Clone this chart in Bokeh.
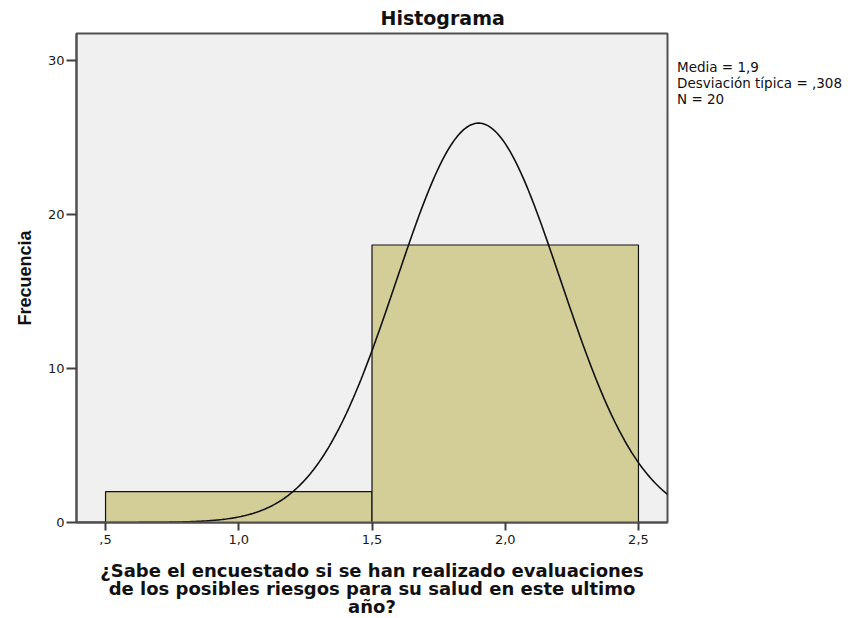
import numpy as np
from bokeh.plotting import figure
from bokeh.models import FixedTicker, Range1d, Legend, LegendItem
from bokeh.embed import file_html
from bokeh.resources import INLINE

# data
bin_left = [0.5, 1.5]
bin_right = [1.5, 2.5]
counts = [2, 18]
mean = 1.9
std = 0.308
n = 20
x_ticks = [0.5, 1.0, 1.5, 2.0, 2.5]
x_tick_labels = [",5", "1,0", "1,5", "2,0", "2,5"]
y_ticks = [0, 10, 20, 30]
stats_lines = ["Media = 1,9", "Desviación típica = ,308", "N = 20"]
title_text = "Histograma"
x_label = "¿Sabe el encuestado si se han realizado evaluaciones\nde los posibles riesgos para su salud en este ultimo\naño?"
y_label = "Frecuencia"

x0, x1 = 0.391, 2.609
y0, y1 = 0.0, 31.72

p = figure(frame_width=591, frame_height=489, output_backend="svg", toolbar_location=None,
           x_range=Range1d(x0, x1), y_range=Range1d(y0, y1),
           min_border_left=76, min_border_right=175, min_border_top=33, min_border_bottom=94)
p.border_fill_color = "white"
p.background_fill_color = "#F0F0F0"
p.xgrid.visible = False
p.ygrid.visible = False
p.outline_line_color = "#505050"
p.outline_line_width = 2

p.quad(left=bin_left, right=bin_right, bottom=0, top=counts,
       fill_color="#D3CE98", line_color="#111111", line_width=1.2)

# normal curve from mean/sd/N (bin width 1)
bw = bin_right[0] - bin_left[0]
xs = np.linspace(x0, x1, 400)
ys = n * bw * np.exp(-0.5 * ((xs - mean) / std) ** 2) / (std * np.sqrt(2 * np.pi))
p.line(xs, ys, line_color="#111111", line_width=1.6)

for ax in (p.xaxis[0], p.yaxis[0]):
    ax.axis_line_color = "#505050"
    ax.axis_line_width = 2
    ax.major_tick_line_color = "#404040"
    ax.major_tick_line_width = 2
    ax.major_tick_in = 0
    ax.minor_tick_line_color = None
    ax.major_label_text_font = "DejaVu Sans"
    ax.major_label_text_font_size = "13px"
    ax.major_label_text_color = "#1a1a1a"
    ax.axis_label_text_font_style = "bold"
    ax.axis_label_text_color = "#111111"

p.xaxis.ticker = FixedTicker(ticks=x_ticks)
p.xaxis.major_label_overrides = {t: l for t, l in zip(x_ticks, x_tick_labels)}
p.xaxis.major_tick_out = 8
p.xaxis.major_label_standoff = 4
p.xaxis.axis_label = x_label
p.xaxis.axis_label_text_font = "DejaVu Sans"
p.xaxis.axis_label_text_font_size = "18px"
p.xaxis.axis_label_standoff = 13
p.xaxis.axis_label_text_line_height = 0.88

p.yaxis.ticker = FixedTicker(ticks=y_ticks)
p.yaxis.major_tick_out = 10
p.yaxis.major_label_standoff = 2
p.yaxis.axis_label = y_label
p.yaxis.axis_label_text_font = "Liberation Sans"
p.yaxis.axis_label_text_font_size = "18px"
p.yaxis.axis_label_standoff = 10

# title
p.title.text = title_text
p.title.text_font = "DejaVu Sans"
p.title.text_font_style = "bold"
p.title.text_font_size = "19px"
p.title.text_color = "#111111"
p.title.align = "left"
p.title.offset = 304
p.title.standoff = 9

# statistics box (legend with invisible glyph)
dummy = p.scatter([mean], [0], size=0, fill_alpha=0, line_alpha=0)
items = [LegendItem(label=s, renderers=[dummy]) for s in stats_lines]
leg = Legend(items=items, location="top_left", orientation="vertical",
             margin=0, padding=10, spacing=-6,
             glyph_width=0, glyph_height=13, label_height=13, label_standoff=10,
             label_text_font="DejaVu Sans", label_text_font_size="13.5px",
             label_text_color="#111111", label_text_line_height=0.9,
             title=" ", title_text_font_size="10px", title_standoff=15,
             background_fill_alpha=0, border_line_color=None)
p.add_layout(leg, "right")

open("out.html", "w").write(file_html(p, INLINE))
